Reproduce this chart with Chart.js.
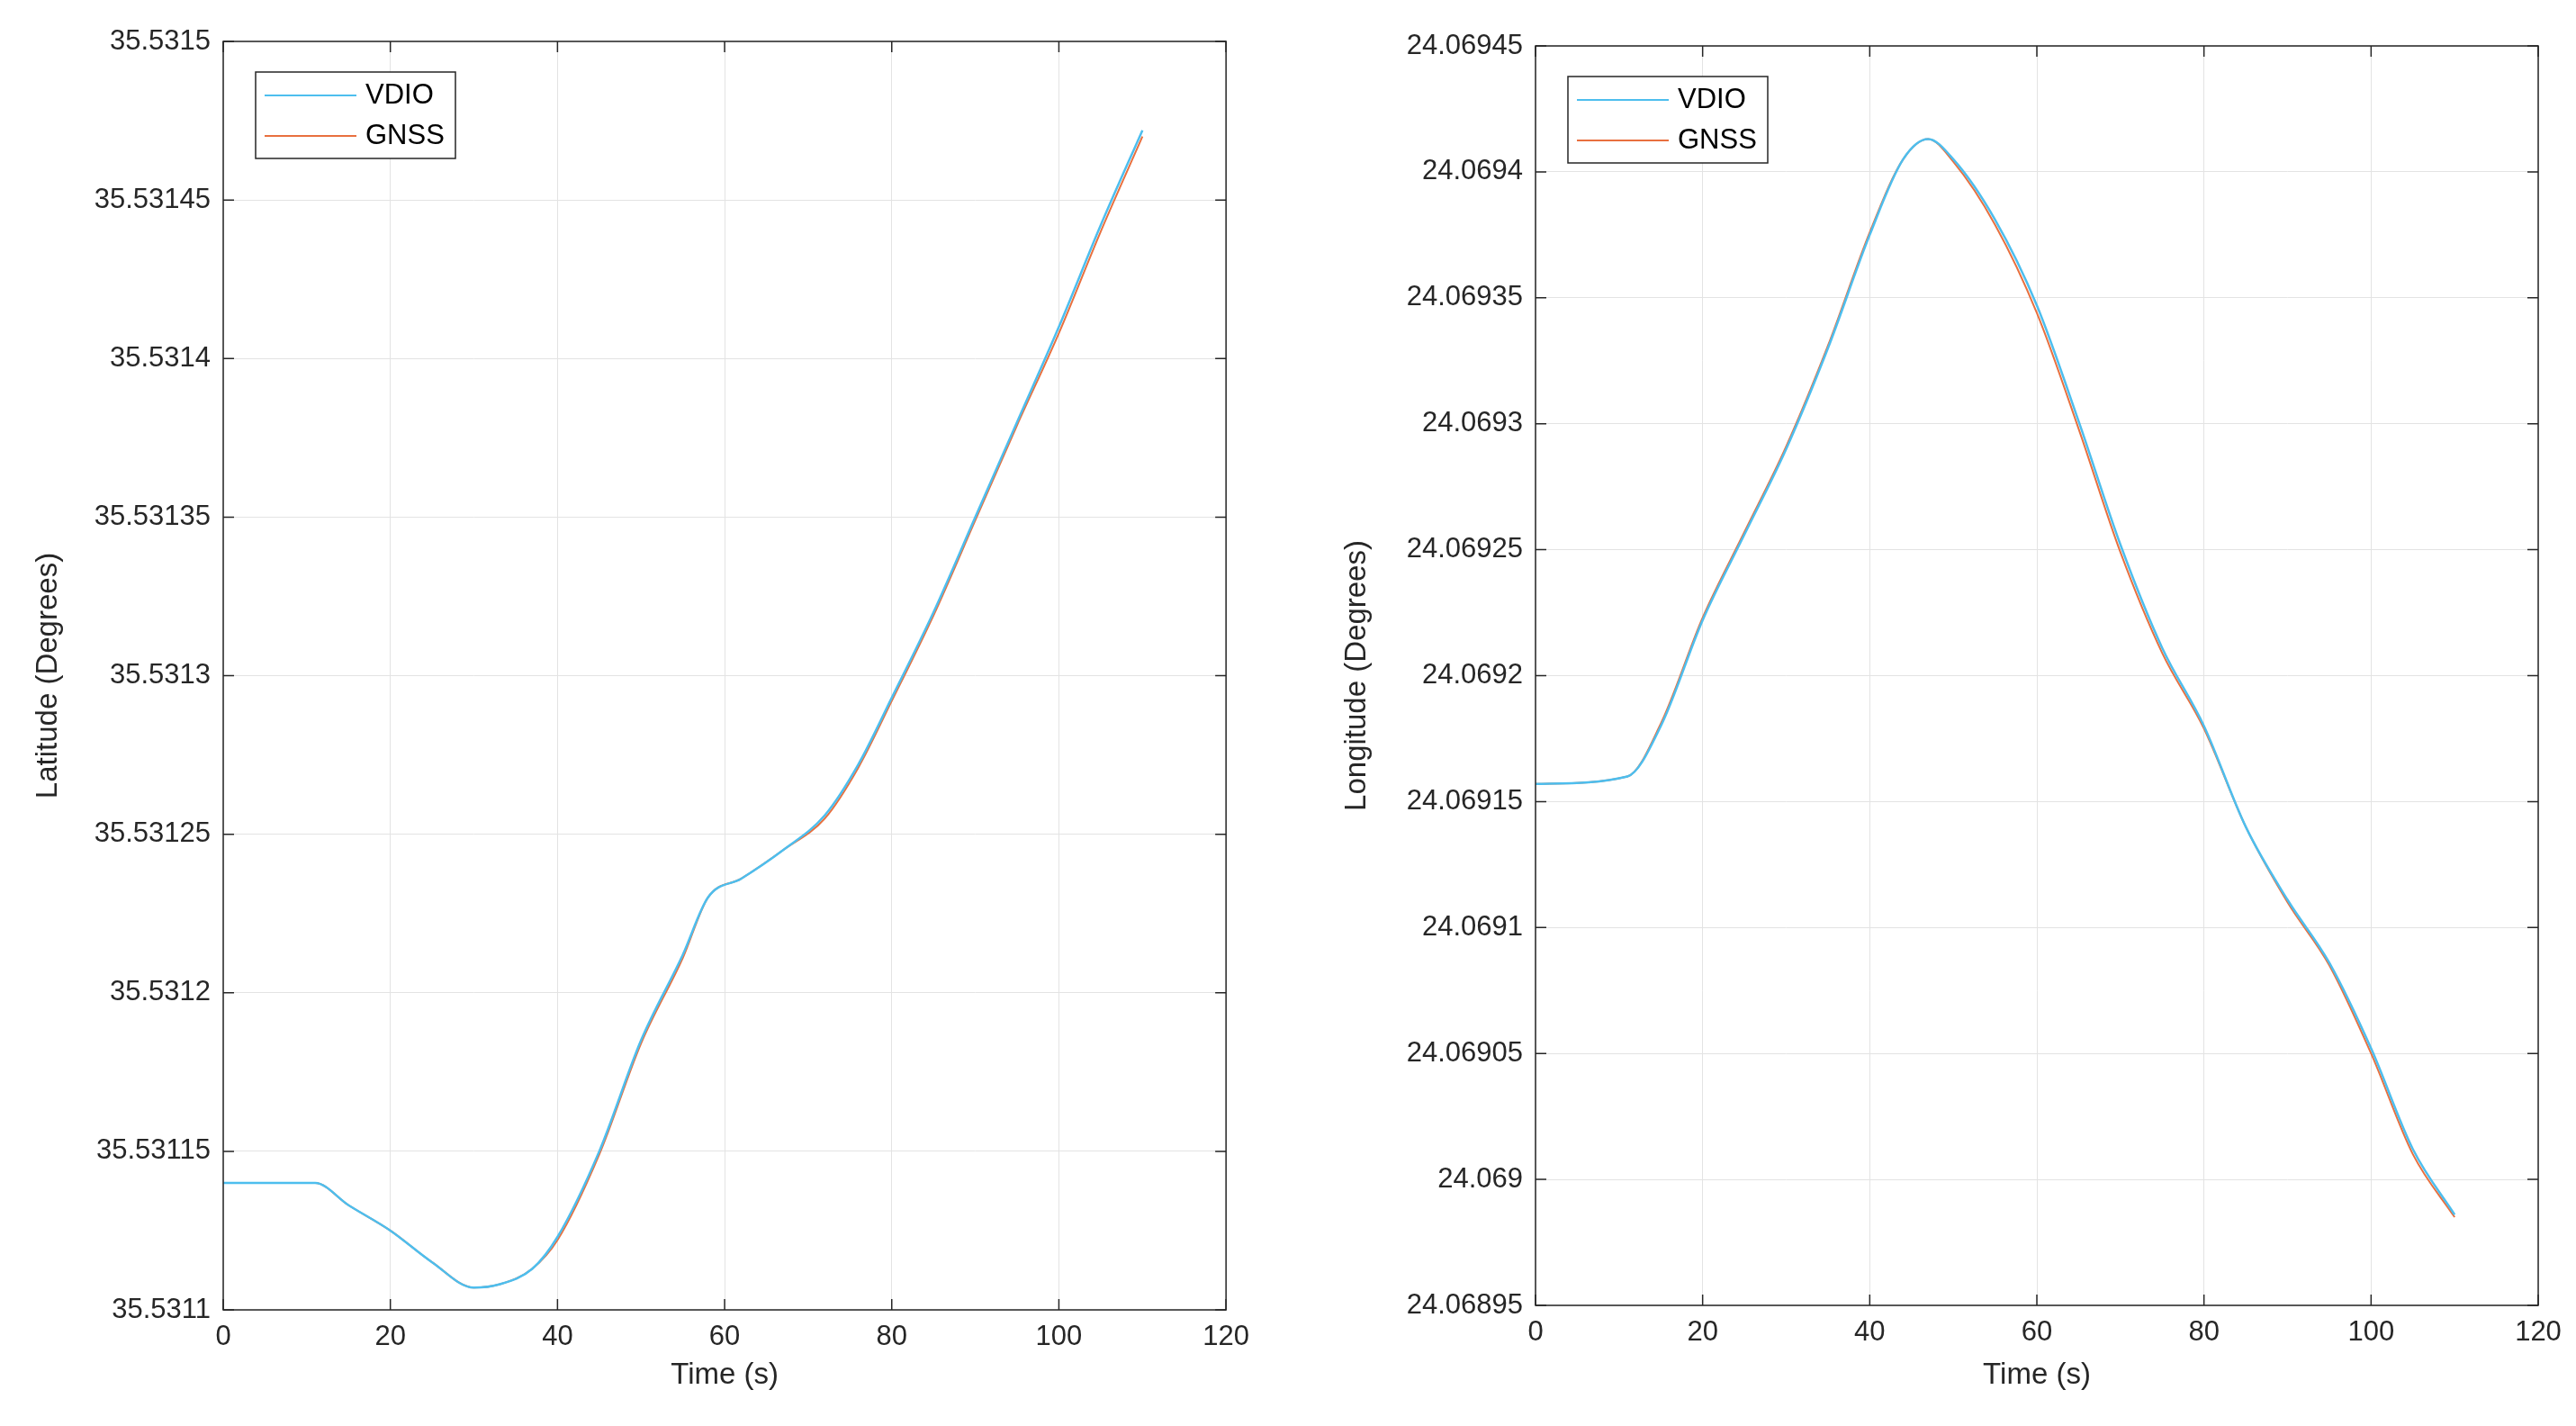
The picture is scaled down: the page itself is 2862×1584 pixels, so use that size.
<!DOCTYPE html>
<html>
<head>
<meta charset="utf-8">
<script src="https://cdn.jsdelivr.net/npm/chart.js@4/dist/chart.umd.min.js"></script>
<style>
  body { margin: 0; background: #fff; width: 2862px; height: 1584px; position: relative; overflow: hidden; }
  .box { position: absolute; top: 0; height: 1584px; }
</style>
</head>
<body>
<div class="box" style="left:0;width:1400px"><canvas id="latChart"></canvas></div>
<div class="box" style="left:1460px;width:1402px"><canvas id="lonChart"></canvas></div>
<script>
// time samples (s)
const timeLat = [0, 11, 15, 20, 25, 30, 33, 37, 40, 45, 50, 55, 58, 62, 67, 72, 76, 80, 85, 90, 95, 100, 105, 110];
const latVdio = [35.53114, 35.53114, 35.531133, 35.531125, 35.531115, 35.531107, 35.531108, 35.531113, 35.531123, 35.53115, 35.531185, 35.531212, 35.53123, 35.531236, 35.531245, 35.531256, 35.531272, 35.531293, 35.53132, 35.53135, 35.53138, 35.53141, 35.531442, 35.531472];
const latGnss = [35.53114, 35.53114, 35.531133, 35.531125, 35.531115, 35.531107, 35.531108, 35.531113, 35.531122, 35.531149, 35.531184, 35.531211, 35.53123, 35.531236, 35.531245, 35.531255, 35.531271, 35.531292, 35.531319, 35.531349, 35.531379, 35.531408, 35.53144, 35.53147];
const latTicks = ["35.5311", "35.53115", "35.5312", "35.53125", "35.5313", "35.53135", "35.5314", "35.53145", "35.5315"];

const timeLon = [0, 11, 15, 20, 25, 30, 35, 40, 44, 47, 50, 55, 60, 65, 70, 75, 80, 85, 90, 95, 100, 105, 110];
const lonVdio = [24.069157, 24.06916, 24.06918, 24.069222, 24.069256, 24.06929, 24.06933, 24.069375, 24.069405, 24.069413, 24.069405, 24.069381, 24.069347, 24.069301, 24.069252, 24.069211, 24.06918, 24.06914, 24.069111, 24.069086, 24.069052, 24.069012, 24.068986];
const lonGnss = [24.069157, 24.06916, 24.069181, 24.069223, 24.069257, 24.069291, 24.069331, 24.069376, 24.069405, 24.069413, 24.069404, 24.069379, 24.069344, 24.069298, 24.069249, 24.069209, 24.069179, 24.06914, 24.06911, 24.069085, 24.06905, 24.06901, 24.068985];
const lonTicks = ["24.06895", "24.069", "24.06905", "24.0691", "24.06915", "24.0692", "24.06925", "24.0693", "24.06935", "24.0694", "24.06945"];

const xTicks = [0, 20, 40, 60, 80, 100, 120];
const FONT = "'Liberation Sans', Arial, sans-serif";

const boxPlugin = {
  id: 'boxLegend',
  afterDraw(chart) {
    const { ctx, chartArea: a } = chart;
    ctx.save();
    ctx.strokeStyle = '#262626';
    ctx.lineWidth = 1.5;
    ctx.strokeRect(a.left, a.top, a.right - a.left, a.bottom - a.top);
    // inner ticks on all four sides
    const ys = chart.scales.y, xs = chart.scales.x;
    ctx.beginPath();
    ys.ticks.forEach(t => { const p = ys.getPixelForValue(t.value); ctx.moveTo(a.right, p); ctx.lineTo(a.right - 12, p); ctx.moveTo(a.left, p); ctx.lineTo(a.left + 12, p); });
    xs.ticks.forEach(t => { const p = xs.getPixelForValue(t.value); ctx.moveTo(p, a.top); ctx.lineTo(p, a.top + 12); ctx.moveTo(p, a.bottom); ctx.lineTo(p, a.bottom - 12); });
    ctx.stroke();
    // legend
    const lx = a.left + 36, ly = a.top + 34, lw = 222, lh = 96;
    ctx.fillStyle = '#fff';
    ctx.fillRect(lx, ly, lw, lh);
    ctx.strokeStyle = '#262626';
    ctx.strokeRect(lx, ly, lw, lh);
    ctx.font = '31px ' + FONT;
    ctx.textBaseline = 'middle';
    chart.data.datasets.forEach((d, i) => {
      const cy = ly + 26 + i * 45;
      ctx.strokeStyle = d.borderColor;
      ctx.lineWidth = 2;
      ctx.beginPath(); ctx.moveTo(lx + 10, cy); ctx.lineTo(lx + 112, cy); ctx.stroke();
      ctx.fillStyle = '#000';
      ctx.fillText(d.label, lx + 122, cy);
    });
    ctx.restore();
  }
};

function makeChart(id, times, vdio, gnss, yTicks, yTitle, yW, xH, pad, yTitleGap) {
  const pts = arr => arr.map((v, i) => ({ x: times[i], y: v }));
  const yVals = yTicks.map(Number);
  new Chart(document.getElementById(id), {
    type: 'line',
    data: {
      datasets: [
        { label: 'VDIO', data: pts(vdio), borderColor: '#4DBEEE', borderWidth: 2.5, pointRadius: 0, cubicInterpolationMode: 'monotone' },
        { label: 'GNSS', data: pts(gnss), borderColor: '#E8703F', borderWidth: 2, pointRadius: 0, cubicInterpolationMode: 'monotone' }
      ]
    },
    options: {
      responsive: false, animation: false,
      devicePixelRatio: 1,
      layout: { padding: pad },
      plugins: { legend: { display: false }, tooltip: { enabled: false } },
      scales: {
        x: {
          type: 'linear', min: 0, max: 120,
          afterBuildTicks: s => { s.ticks = xTicks.map(v => ({ value: v })); },
          afterFit: s => { s.height = xH; },
          grid: { color: '#e3e3e3', drawTicks: false },
          border: { display: false },
          ticks: { color: '#262626', font: { size: 31, family: FONT }, padding: 12, maxRotation: 0 },
          title: { display: true, text: 'Time (s)', color: '#262626', font: { size: 33, family: FONT }, padding: { top: 4, bottom: 36 } }
        },
        y: {
          type: 'linear', min: yVals[0], max: yVals[yVals.length - 1],
          afterBuildTicks: s => { s.ticks = yVals.map(v => ({ value: v })); },
          afterFit: s => { s.width = yW; },
          grid: { color: '#e3e3e3', drawTicks: false },
          border: { display: false },
          ticks: { color: '#262626', font: { size: 31, family: FONT }, padding: 14, callback: (v, i) => yTicks[i] },
          title: { display: true, text: yTitle, color: '#262626', font: { size: 33, family: FONT }, padding: { top: yTitleGap, bottom: 4 } }
        }
      }
    },
    plugins: [boxPlugin]
  });
}

document.getElementById('latChart').width = 1400;
document.getElementById('latChart').height = 1584;
document.getElementById('lonChart').width = 1402;
document.getElementById('lonChart').height = 1584;
makeChart('latChart', timeLat, latVdio, latGnss, latTicks, 'Latitude (Degrees)', 248, 129, { top: 46, right: 33, left: 0, bottom: 0 }, 34);
makeChart('lonChart', timeLon, lonVdio, lonGnss, lonTicks, 'Longitude (Degrees)', 246, 134, { top: 51, right: 42, left: 0, bottom: 0 }, 28);
</script>
</body>
</html>
